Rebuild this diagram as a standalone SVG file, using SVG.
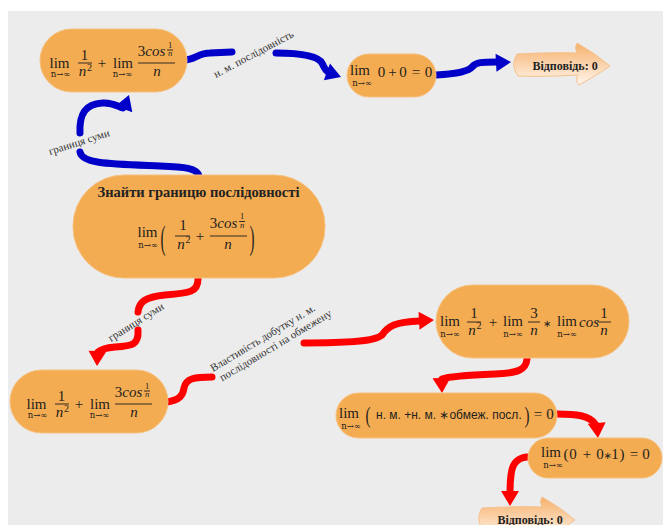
<svg xmlns="http://www.w3.org/2000/svg" xmlns:xlink="http://www.w3.org/1999/xlink" width="663" height="525" viewBox="0 0 663 525">
<defs>
<style>
.node{fill:#f4ac52;stroke:#f7c07e;stroke-width:1}
.m{font-family:"Liberation Serif","Times New Roman",serif;fill:#1e1e1e;font-size:15px;text-anchor:middle}
.mi{font-style:italic}
.sub{font-family:"DejaVu Serif",serif;font-size:8.5px}
.sup{font-size:10px}
.sm{font-size:8.5px}
.ast{font-family:"DejaVu Sans",sans-serif;font-size:10px}
.bar{stroke:#1e1e1e;stroke-width:0.9}
.tx{font-family:"Liberation Sans",Arial,sans-serif;font-size:12px;fill:#1e1e1e}
.title{font-family:"Liberation Serif","Times New Roman",serif;font-weight:bold;font-size:14.5px;fill:#222;text-anchor:middle}
.ans{font-family:"Liberation Serif","Times New Roman",serif;font-weight:bold;font-size:12px;fill:#222;text-anchor:middle}
.lbl{font-family:"Liberation Serif","Times New Roman",serif;font-size:11px;fill:#333}
.blue{fill:none;stroke:#0000c8;stroke-width:7;stroke-linecap:round;stroke-linejoin:round}
.red{fill:none;stroke:#ff0000;stroke-width:7;stroke-linecap:round;stroke-linejoin:round}
.bh{fill:#0000c8}
.rh{fill:#ff0000}
</style>
<linearGradient id="ansg" x1="0" y1="0" x2="0" y2="1">
<stop offset="0" stop-color="#f6b06a"/>
<stop offset="1" stop-color="#fff6ee"/>
</linearGradient>
<path id="ah" d="M0,0 L-15,-9 L-15,9 Z"/>
<path id="ansShape" d="M517,54 Q555,52 577,53 Q574,47 577,43 Q595,53 610,66 Q596,76 579,85 Q575,80 578,75 Q545,77 518,76 Q510,65 517,54 Z"/>
<g id="fAD">
<text class="m" x="-54" y="7.5">lim</text>
<text class="m sub" x="-53" y="16">n→∞</text>
<text class="m" x="-29" y="-0.5">1</text>
<line class="bar" x1="-35.5" y1="2.5" x2="-21.5" y2="2.5"/>
<text class="m mi" x="-31" y="15.5">n</text>
<text class="m sup" x="-24" y="10">2</text>
<text class="m" x="-11.5" y="7">+</text>
<text class="m" x="9.5" y="7.5">lim</text>
<text class="m sub" x="9" y="16">n→∞</text>
<line class="bar" x1="24.5" y1="2.5" x2="61.5" y2="2.5"/>
<text class="m" x="38" y="-4.5">3<tspan class="mi">cos</tspan></text>
<text class="m sm" x="56.5" y="-13">1</text>
<line class="bar" x1="53.5" y1="-10.5" x2="59.5" y2="-10.5" stroke-width="0.6"/>
<text class="m sm mi" x="56.5" y="-5">n</text>
<text class="m mi" x="43.5" y="15.5">n</text>
</g>
</defs>

<rect x="0" y="0" width="663" height="525" fill="#ffffff"/>
<rect x="8" y="11" width="655" height="514" fill="#ececec"/>

<g id="connectors">
<path class="blue" d="M199,176 C197,168 185,167 160,166 C110,164 82,164 80,152"/>
<path class="blue" d="M80,133 C79,113 86,104 102,103 C112,102 117,106 123,108"/>
<use xlink:href="#ah" class="bh" transform="translate(129,95) rotate(-70)"/>
<path class="blue" d="M184,60 C195,60 198,53 210,53 L232,52"/>
<path class="blue" d="M276,53 C300,53 318,56 322,63 C325,69 325,70 328,72"/>
<use xlink:href="#ah" class="bh" transform="translate(341,77) rotate(20)"/>
<path class="blue" d="M436,75 C455,74 468,72 472,67 C476,62 482,62 497,62"/>
<use xlink:href="#ah" class="bh" transform="translate(511,62) rotate(-3)"/>
<path class="red" d="M198,279 C198,292 190,293 165,295 C145,297 139,302 138,312"/>
<path class="red" d="M138,330 C139,345 132,346 115,347 C104,348 100,350 98,352"/>
<use xlink:href="#ah" class="rh" transform="translate(97,366) rotate(92)"/>
<path class="red" d="M167,402 C180,400 183,395 184,388 C186,378 195,377 212,377"/>
<path class="red" d="M304,343 C340,343 375,342 382,335 C388,326 395,322 420,321"/>
<use xlink:href="#ah" class="rh" transform="translate(434,320) rotate(-3)"/>
<path class="red" d="M527,359 C526,370 518,373 495,374 C470,375 450,376 442,379"/>
<use xlink:href="#ah" class="rh" transform="translate(442,393) rotate(88)"/>
<path class="red" d="M557,414 C575,414 590,415 596,425"/>
<use xlink:href="#ah" class="rh" transform="translate(598,438) rotate(85)"/>
<path class="red" d="M527,457 C516,458 512,465 511,475 C510,482 510,486 510,492"/>
<use xlink:href="#ah" class="rh" transform="translate(510,506) rotate(90)"/>
<text class="lbl" transform="translate(50,155) rotate(-17.5)">границя суми</text>
<text class="lbl" transform="translate(216,78) rotate(-28)">н. м. послідовність</text>
<text class="lbl" transform="translate(111,342) rotate(-32)">границя суми</text>
<text class="lbl" transform="translate(213,372) rotate(-31)"><tspan x="0" y="0">Властивість добутку н. м.</tspan><tspan x="3" y="13">послідовності  на обмежену</tspan></text>
</g>

<g id="nodeA">
<rect class="node" x="40" y="29" width="147" height="63" rx="31.5"/>
<use xlink:href="#fAD" transform="translate(113.5,60.5)"/>
</g>

<g id="nodeB">
<rect class="node" x="347" y="54" width="89" height="43" rx="21.5"/>
<text class="m" x="360" y="75">lim</text>
<text class="m sub" x="362" y="86">n→∞</text>
<text class="m" y="77" font-size="16"><tspan x="381.5">0</tspan><tspan x="392.5">+</tspan><tspan x="403">0</tspan><tspan x="416">=</tspan><tspan x="428.5">0</tspan></text>
</g>

<g id="answer1">
<use xlink:href="#ansShape" fill="url(#ansg)" stroke="#f5c18c" stroke-width="1"/>
<text class="ans" x="565" y="70">Відповідь: 0</text>
</g>

<g id="nodeC">
<rect class="node" x="73" y="175" width="252" height="103" rx="51"/>
<text class="title" x="198.5" y="197">Знайти границю послідовності</text>
<text class="m" x="147.5" y="237">lim</text>
<text class="m sub" x="148" y="248">n→∞</text>
<text class="m" font-size="16" transform="translate(163,249) scale(1,2.3)">(</text>
<text class="m" x="183" y="230">1</text>
<line class="bar" x1="175" y1="236" x2="190" y2="236"/>
<text class="m mi" x="181" y="249">n</text>
<text class="m sup" x="188" y="243">2</text>
<text class="m" x="200" y="241">+</text>
<line class="bar" x1="210" y1="236" x2="247" y2="236"/>
<text class="m" x="223.5" y="228">3<tspan class="mi">cos</tspan></text>
<text class="m sm" x="242" y="219">1</text>
<line class="bar" x1="239" y1="221.5" x2="245" y2="221.5" stroke-width="0.6"/>
<text class="m sm mi" x="242" y="227.5">n</text>
<text class="m mi" x="228" y="249">n</text>
<text class="m" font-size="16" transform="translate(252,249) scale(1,2.3)">)</text>
</g>

<g id="nodeD">
<rect class="node" x="10" y="370" width="158" height="63" rx="31.5"/>
<use xlink:href="#fAD" transform="translate(90.5,401.5)"/>
</g>

<g id="nodeE">
<rect class="node" x="436" y="285" width="193" height="73" rx="36.5"/>
<text class="m" x="450" y="326">lim</text>
<text class="m sub" x="450" y="337">n→∞</text>
<text class="m" x="474" y="318">1</text>
<line class="bar" x1="467" y1="322" x2="481" y2="322"/>
<text class="m mi" x="472" y="335">n</text>
<text class="m sup" x="479" y="329">2</text>
<text class="m" x="493" y="327">+</text>
<text class="m" x="513" y="326">lim</text>
<text class="m sub" x="513" y="337">n→∞</text>
<text class="m" x="534" y="318">3</text>
<line class="bar" x1="528" y1="322" x2="540" y2="322"/>
<text class="m mi" x="534" y="335">n</text>
<text class="m ast" x="547" y="327">∗</text>
<text class="m" x="567" y="326">lim</text>
<text class="m sub" x="567" y="337">n→∞</text>
<text class="m mi" x="589" y="327">cos</text>
<text class="m" x="604" y="318">1</text>
<line class="bar" x1="597" y1="322" x2="611" y2="322"/>
<text class="m mi" x="604" y="335">n</text>
</g>

<g id="nodeF">
<rect class="node" x="336" y="393" width="221" height="45" rx="22.5"/>
<text class="m" x="349" y="418">lim</text>
<text class="m sub" x="351" y="429">n→∞</text>
<text class="m" font-size="16" transform="translate(368,423) scale(1,1.6)">(</text>
<text class="tx" x="376" y="419">н. м. +н. м. ∗обмеж. посл.</text>
<text class="m" font-size="16" transform="translate(527,423) scale(1,1.6)">)</text>
<text class="m" x="538" y="419">=</text>
<text class="m" x="550" y="419">0</text>
</g>

<g id="nodeG">
<rect class="node" x="528" y="438" width="134" height="40" rx="20"/>
<text class="m" x="551" y="457">lim</text>
<text class="m sub" x="553" y="468">n→∞</text>
<text class="m" y="459" font-size="16"><tspan x="566">(</tspan><tspan x="573">0</tspan><tspan x="587">+</tspan><tspan x="600">0</tspan></text>
<text class="m ast" x="607.5" y="459">∗</text>
<text class="m" y="459" font-size="16"><tspan x="615">1</tspan><tspan x="622">)</tspan><tspan x="634">=</tspan><tspan x="646">0</tspan></text>
</g>

<g id="answer2">
<use xlink:href="#ansShape" fill="url(#ansg)" stroke="#f5c18c" stroke-width="1" transform="translate(-35,454)"/>
<text class="ans" x="530" y="524">Відповідь: 0</text>
</g>
</svg>
